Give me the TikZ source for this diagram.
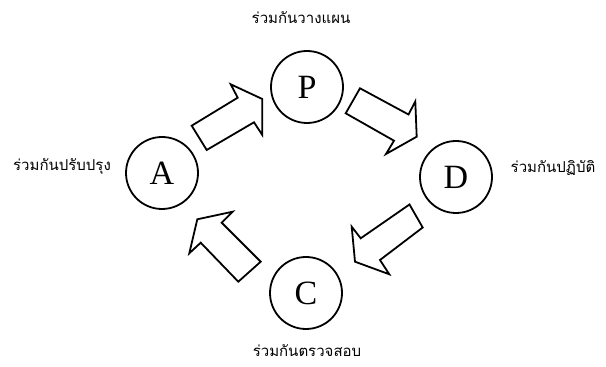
\documentclass[tikz,border=0pt]{standalone}
\usepackage{fontspec}
\setmainfont{Liberation Serif}
\newfontfamily\thaifont[Script=Thai]{Loma}
\usetikzlibrary{positioning}
\tikzset{
  phase/.style={circle,draw,line width=.9pt,fill=white,minimum size=36pt,inner sep=0pt,font=\fontsize{17}{17}\selectfont},
  blockarrow/.style={draw,line width=.9pt,fill=white,line join=miter},
  steplab/.style={font=\thaifont\fontsize{7.5}{9}\selectfont,inner sep=0pt,anchor=base}
}

\begin{document}
\begin{tikzpicture}[x=.5pt,y=-.5pt]
  \useasboundingbox (0,0) rectangle (606,367);
  % the four phases
  \node[phase] (P) at (307,87) {P};
  \node[phase] (D) at (456,177) {D};
  \node[phase] (C) at (306,293) {C};
  \node[phase] (A) at (162,173) {A};
  \node[steplab] (plan) at (301,24) {ร่วมกันวางแผน};
  \node[steplab] (do) at (553,173) {ร่วมกันปฏิบัติ};
  \node[steplab] (check) at (307,357) {ร่วมกันตรวจสอบ};
  \node[steplab] (act) at (62,171) {ร่วมกันปรับปรุง};
  % block arrows round the cycle
  \draw[blockarrow] (191.7,125.7) -- (237.7,97.7) -- (230.7,84.3) -- (262.3,99)
    -- (262.3,135) -- (254,122.3) -- (206.7,150) -- cycle;
  \draw[blockarrow] (360,88.3) -- (408.5,114.5) -- (415.3,101.5) -- (416.7,136.7)
    -- (386,154) -- (394,140.7) -- (345.7,113.3) -- cycle;
  \draw[blockarrow] (409.5,204.5) -- (422.7,227.5) -- (380,260) -- (389.3,274.3)
    -- (355,261.7) -- (351.7,226.7) -- (360.7,238.3) -- cycle;
  \draw[blockarrow] (197.3,219.3) -- (232.7,211.7) -- (221.7,222.7) -- (260.7,261.7)
    -- (238.3,281.7) -- (200.7,242.7) -- (189.3,253.3) -- cycle;
\end{tikzpicture}
\end{document}
